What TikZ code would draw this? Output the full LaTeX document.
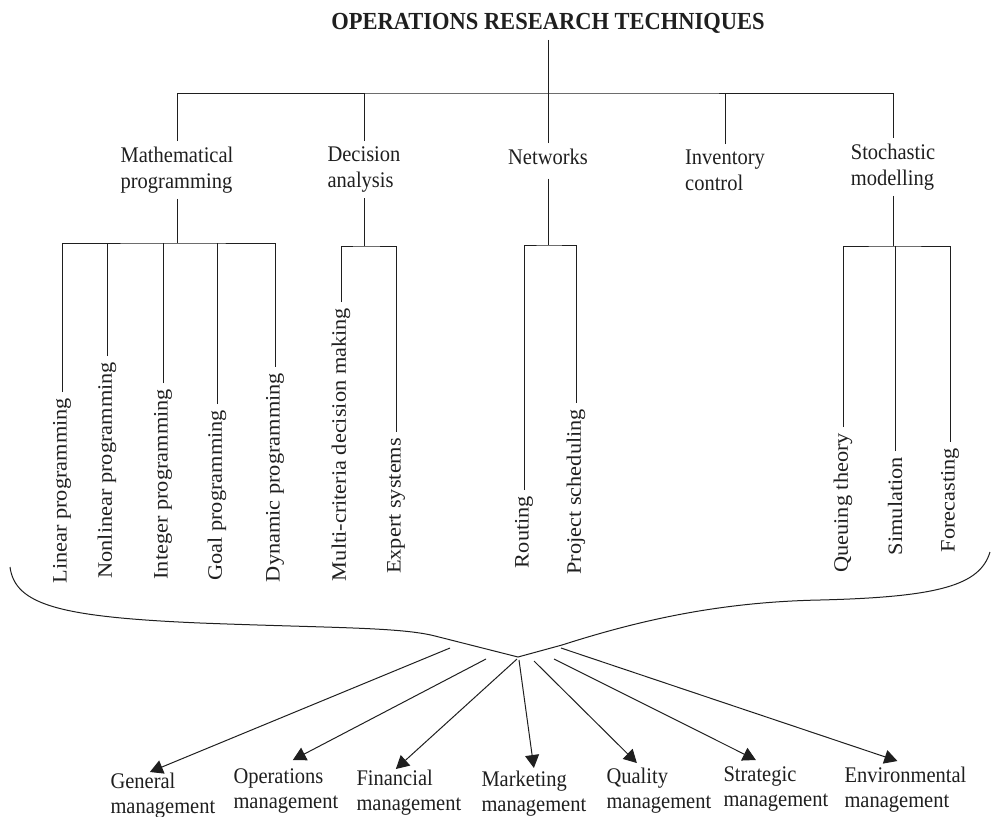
\documentclass[tikz,border=0pt]{standalone}
\usepackage{fontspec}
\setmainfont{Liberation Serif}
\usetikzlibrary{arrows.meta}

\tikzset{
  every node/.style={yscale=1.09},
  txt/.style={font=\fontsize{20.5}{23.5}\selectfont, inner sep=5pt},
  head/.style={txt, align=left, anchor=north},
  leaf/.style={txt, rotate=90, anchor=east},
  area/.style={font=\fontsize{20.5}{23}\selectfont, inner sep=0pt, align=left, anchor=north west},
  arr/.style={-{Triangle[length=13pt,width=14pt]}},
}

\begin{document}
\begin{tikzpicture}[x=1pt, y=-1pt, line width=1pt, black!88]
    \useasboundingbox (0,0) rectangle (992,816);

    % Titolo
    \node[font=\fontsize{22.5}{26}\selectfont\bfseries, anchor=base, inner sep=5pt] (ort) at (548,30) {OPERATIONS RESEARCH TECHNIQUES};
    \coordinate (top) at (548,93);

    % Primo livello
    \node[head] (mp) at (177,141) {Mathematical\\programming};
    \node[head] (da) at (364,141) {Decision\\analysis};
    \node[head] (nw) at (548,143) {Networks};
    \node[head] (ic) at (725,144) {Inventory\\control};
    \node[head] (sm) at (893,138) {Stochastic\\modelling};

    \draw (ort.south) -- (top);
    \draw (mp.north) |- (top) -| (sm.north);
    \foreach \n in {da,nw,ic}
        \draw (\n.north) -- (\n.north |- top);

    % Foglie (testo verticale)
    \node[leaf] (lp) at (62,392) {Linear programming};
    \node[leaf] (nlp) at (107,356) {Nonlinear programming};
    \node[leaf] (ip) at (163,383) {Integer programming};
    \node[leaf] (gp) at (217,404) {Goal programming};
    \node[leaf] (dp) at (275,367) {Dynamic programming};
    \node[leaf] (mcdm) at (341,302) {Multi-criteria decision making};
    \node[leaf] (es) at (396,432) {Expert systems};
    \node[leaf] (rt) at (524,490) {Routing};
    \node[leaf] (ps) at (576,403) {Project scheduling};
    \node[leaf] (qt) at (843,427) {Queuing theory};
    \node[leaf] (sim) at (895,451) {Simulation};
    \node[leaf] (fc) at (950,442) {Forecasting};

    % Barre del secondo livello
    \coordinate (mpbar) at (177,243);
    \coordinate (dabar) at (364,246);
    \coordinate (nwbar) at (548,245);
    \coordinate (smbar) at (893,246);

    \draw (mp.south) -- (mpbar);
    \draw (lp.east) |- (mpbar) -| (dp.east);
    \foreach \n in {nlp,ip,gp}
        \draw (\n.east) -- (\n.east |- mpbar);

    \draw (da.south) -- (dabar);
    \draw (mcdm.east) |- (dabar) -| (es.east);

    \draw[shorten <=8pt] (nw.south) -- (nwbar);
    \draw (rt.east) |- (nwbar) -| (ps.east);

    \draw (sm.south) -- (smbar);
    \draw (qt.east) |- (smbar) -| (fc.east);
    \draw (sim.east) -- (sim.east |- smbar);

    % Graffa
    \draw (10,567) .. controls (15,605) and (60,617) .. (200,623)
        .. controls (330,628) and (400,627) .. (435,636) -- (518,657) -- (562,645)
        .. controls (640,620) and (720,602) .. (820,600)
        .. controls (940,597) and (980,585) .. (990,552);

    % Aree di applicazione
    \node[area] (gm) at (110,772) {General\\management};
    \node[area] (om) at (233,768) {Operations\\management};
    \node[area] (fm) at (356,769) {Financial\\management};
    \node[area] (mm) at (481,770) {Marketing\\management};
    \node[area] (qm) at (606,767) {Quality\\management};
    \node[area] (stm) at (723,766) {Strategic\\management};
    \node[area] (em) at (844,766) {Environmental\\management};

    \coordinate (b1) at (450,648);
    \coordinate (b2) at (486,659);
    \coordinate (b3) at (517,659);
    \coordinate (b4) at (519,660);
    \coordinate (b5) at (534,661);
    \coordinate (b6) at (554,659);
    \coordinate (b7) at (561,648);

    \draw[arr] (b1) -- ([xshift=-13pt]gm.north);
    \draw[arr] (b2) -- ([xshift=7pt,yshift=8pt]om.north);
    \draw[arr] (b3) -- ([xshift=-13pt]fm.north);
    \draw[arr] (b4) -- ([yshift=2pt]mm.north);
    \draw[arr] (b5) -- ([xshift=-22pt,yshift=4pt]qm.north);
    \draw[arr] (b6) -- ([xshift=-20pt,yshift=6pt]stm.north);
    \draw[arr] (b7) -- ([xshift=-8pt,yshift=5pt]em.north);
\end{tikzpicture}
\end{document}
